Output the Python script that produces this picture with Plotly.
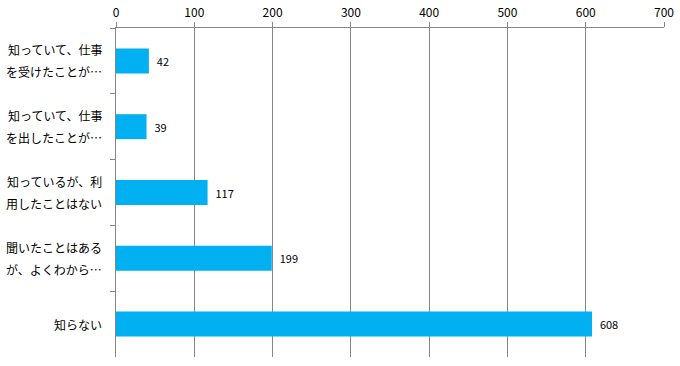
import plotly.graph_objects as go

categories = ["知っていて、仕事を受けたことが…", "知っていて、仕事を出したことが…",
              "知っているが、利用したことはない", "聞いたことはあるが、よくわから…", "知らない"]
label_lines = [["知っていて、仕事", "を受けたことが…"],
               ["知っていて、仕事", "を出したことが…"],
               ["知っているが、利", "用したことはない"],
               ["聞いたことはある", "が、よくわから…"],
               ["知らない"]]
values = [42, 39, 117, 199, 608]
x_ticks = [0, 100, 200, 300, 400, 500, 600, 700]

FONT = "Noto Sans CJK JP"

fig = go.Figure(go.Bar(
    y=categories, x=values, orientation="h",
    marker=dict(color="#00B0F0", line=dict(width=0)),
    width=0.38,
    text=[str(v) for v in values], texttemplate="  %{text}",
    textposition="outside", cliponaxis=False,
    textfont=dict(family=FONT, size=11, color="#000000"),
))

annotations = []
for cat, lines in zip(categories, label_lines):
    if len(lines) == 1:
        annotations.append(dict(x=0, xref="paper", y=cat, yref="y", text=lines[0],
                                showarrow=False, xanchor="right", xshift=-12,
                                font=dict(family=FONT, size=12, color="#000000")))
    else:
        for ln, shift in zip(lines, [11, -11]):
            annotations.append(dict(x=0, xref="paper", y=cat, yref="y", text=ln,
                                    showarrow=False, xanchor="right", xshift=-12, yshift=shift,
                                    font=dict(family=FONT, size=12, color="#000000")))

fig.update_layout(
    width=680, height=366,
    margin=dict(l=116, r=16, t=28, b=9, autoexpand=False),
    paper_bgcolor="white", plot_bgcolor="white",
    showlegend=False,
    bargap=0.62,
    font=dict(family=FONT, size=12, color="#000000"),
    annotations=annotations,
    xaxis=dict(side="top", range=[0, 700], tickvals=x_ticks, ticktext=[str(t) for t in x_ticks],
               showgrid=True, gridcolor="#868686", gridwidth=1,
               showline=True, linecolor="#868686", linewidth=1,
               ticks="outside", ticklen=5, tickcolor="#868686", automargin=False,
               zeroline=False, tickfont=dict(family=FONT, size=12, color="#000000")),
    yaxis=dict(autorange="reversed", showticklabels=False, automargin=False,
               showline=True, linecolor="#868686", linewidth=1,
               ticks="outside", ticklen=5, tickcolor="#868686", tickson="boundaries",
               showgrid=False, zeroline=False),
)

fig.write_html("out.html", config={"displayModeBar": False},
               post_script="document.body.style.margin='0';document.body.style.overflow='hidden';")
